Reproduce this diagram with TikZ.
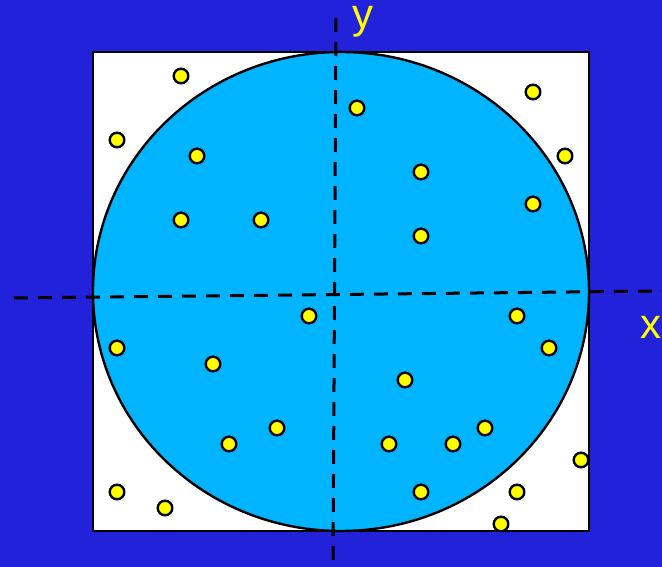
\documentclass[tikz,border=0pt]{standalone}
\usepackage{fontspec}
\setmainfont{Liberation Sans}
\definecolor{sky}{HTML}{2222DA}
\definecolor{disc}{HTML}{00B4FF}
\definecolor{dotfill}{HTML}{FFFF00}

\begin{document}
\begin{tikzpicture}[x=1pt,y=-1pt,
  dart/.style={circle,draw=black,fill=dotfill,line width=2.4pt,
    inner sep=0pt,minimum size=14.6pt},
  axis/.style={black,line width=3pt,dash pattern=on 14pt off 10pt},
  lbl/.style={text=dotfill,font=\fontsize{42}{42}\selectfont,
    inner sep=0pt,anchor=base,text height=1ex,text depth=0.2em}]
  \fill[sky] (0,0) rectangle (662,567);
  \useasboundingbox (0,0) rectangle (662,567);

  % square and inscribed disc
  \draw[fill=white,line width=2.4pt] (93,52) rectangle (589,531);
  \draw[fill=disc,line width=2.4pt] (341,291.5) ellipse [x radius=248,y radius=239.5];

  % axes
  \coordinate (ytop) at (336,18);
  \coordinate (ybot) at (333,567);
  \coordinate (xlft) at (14,298);
  \coordinate (xrgt) at (662,291);
  \draw[axis] (ytop)--(ybot);
  \draw[axis] (xlft)--(xrgt);
  \node[lbl] (ylab) at (362.5,28.5) {y};
  \node[lbl] (xlab) at (650.5,338) {x};

  % random darts
  \foreach \px/\py [count=\i] in {181/76,117/140,197/156,181/220,261/220,
      357/108,421/172,421/236,533/92,565/156,533/204,309/316,517/316,
      117/348,549/348,213/364,405/380,277/428,229/444,389/444,453/444,
      485/428,581/460,117/492,165/508,421/492,517/492,501/524}
    \node[dart] (d\i) at (\px,\py) {};
\end{tikzpicture}
\end{document}
